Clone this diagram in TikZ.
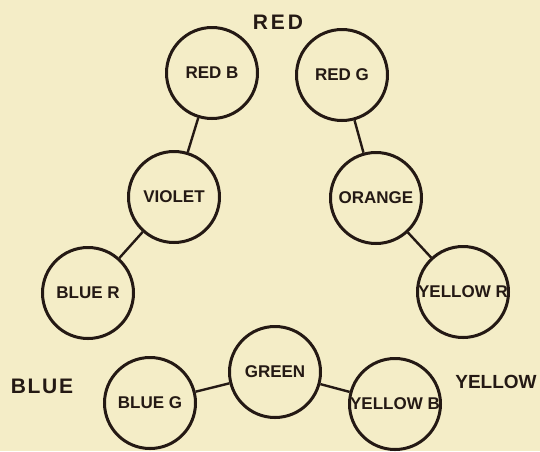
\documentclass[tikz,border=0pt]{standalone}
\usepackage{fontspec}
\setmainfont{Liberation Sans}
\definecolor{paper}{RGB}{244,237,199}
\definecolor{ink}{RGB}{36,25,20}
\tikzset{
    hue/.style={circle, draw=ink, line width=3pt, minimum size=91pt, inner sep=0pt,
        text=ink, font=\fontsize{17}{17}\selectfont\bfseries},
    link/.style={draw=ink, line width=2.4pt},
    primary/.style={text=ink, inner sep=0pt, font=\fontsize{21}{21}\selectfont\bfseries}
}
\begin{document}
\begin{tikzpicture}[x=1pt,y=-1pt]
        \useasboundingbox (0,0) rectangle (540,451);
        \fill[paper] (0,0) rectangle (540,451);

        % mixed hues round the three primaries
        \foreach \name/\x/\y/\txt in {redb/212/73/RED B, redg/342/75/RED G,
                violet/174/197/VIOLET, orange/376/198/ORANGE,
                bluer/88/293/BLUE R, yellowr/463/292/YELLOW R,
                green/275/372/GREEN, blueg/150/403/BLUE G, yellowb/395/404/YELLOW B}
            \node[hue] (\name) at (\x,\y) {\txt};

        \node[primary] (red) at (278,22) {\addfontfeature{LetterSpace=14}RED};
        \node[primary] (blue) at (42,386) {\addfontfeature{LetterSpace=8}BLUE};
        \node[primary, font=\fontsize{19}{19}\selectfont\bfseries] (yellow) at (496,382) {YELLOW};

        \foreach \a/\b in {redb/violet, violet/bluer, redg/orange,
                orange/yellowr, green/blueg, green/yellowb}
            \draw[link] (\a) -- (\b);
    \end{tikzpicture}
\end{document}
